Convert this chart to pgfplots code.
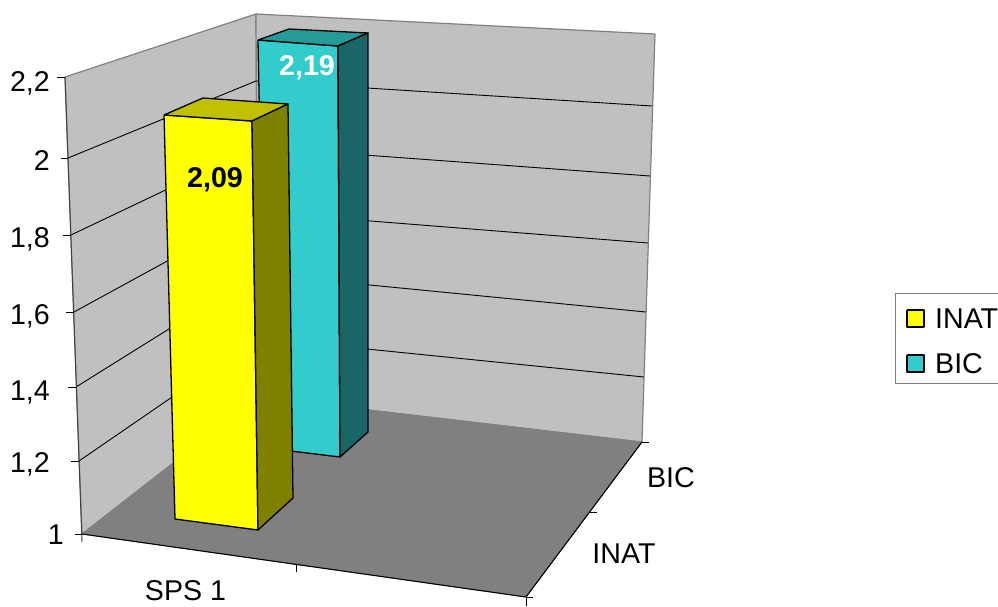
\documentclass[border=0pt]{standalone}
\usepackage{pgfplots}
\pgfplotsset{compat=1.18}
\usepackage{fontspec}
\setmainfont{Liberation Sans}
\definecolor{wall}{HTML}{C0C0C0}
\definecolor{floorc}{HTML}{808080}
\definecolor{yfront}{HTML}{FFFF00}
\definecolor{ytop}{HTML}{C0C000}
\definecolor{yside}{HTML}{808000}
\definecolor{tfront}{HTML}{33CCCC}
\definecolor{ttop}{HTML}{269999}
\definecolor{tside}{HTML}{1A6666}
\begin{document}
\begin{tikzpicture}[x=1bp,y=1bp]
\useasboundingbox (0,0) rectangle (998bp,607bp);
\begin{axis}[
  at={(0,0)}, anchor=south west,
  scale only axis, width=998bp, height=607bp,
  xmin=0, xmax=998, ymin=0, ymax=607, y dir=reverse,
  hide axis, clip=false, no markers,
  every axis plot/.append style={line join=round},
]
% walls and floor
\addplot[fill=wall,draw=floorc,line width=1.2bp] coordinates {(65,77)(256,14)(258,397)(82,534)(65,77)};
\addplot[fill=wall,draw=floorc,line width=1.2bp] coordinates {(256,14)(655,34)(642,442)(258,397)(256,14)};
\addplot[fill=floorc,draw=floorc,line width=0.6bp] coordinates {(82,534)(258,397)(642,442)(526,597)(82,534)};
% gridlines
\addplot[black,line width=0.9bp] coordinates {(68,158)(256,81)(652,106)};
\addplot[black,line width=0.9bp] coordinates {(71,235)(256,147)(650,176)};
\addplot[black,line width=0.9bp] coordinates {(74,312)(257,212)(648,243)};
\addplot[black,line width=0.9bp] coordinates {(76,387)(257,274)(646,312)};
\addplot[black,line width=0.9bp] coordinates {(79,461)(258,338)(644,377)};
% axes
\addplot[black!75,line width=1bp] coordinates {(65,77)(82,542)};
\addplot[black,line width=1.1bp] coordinates {(82,534)(526,597)(642,442)};
\addplot[black,line width=0.8bp] coordinates {(57,77)(65,77)};
\addplot[black,line width=0.8bp] coordinates {(61,158)(68,158)};
\addplot[black,line width=0.8bp] coordinates {(63,235)(71,235)};
\addplot[black,line width=0.8bp] coordinates {(66,312)(74,312)};
\addplot[black,line width=0.8bp] coordinates {(68,387)(76,387)};
\addplot[black,line width=0.8bp] coordinates {(71,461)(79,461)};
\addplot[black,line width=0.8bp] coordinates {(75,534)(82,534)};
\addplot[black,line width=0.8bp] coordinates {(296,565)(296,572)};
\addplot[black,line width=0.8bp] coordinates {(526,597)(526,606)};
\addplot[black,line width=0.8bp] coordinates {(526,597)(533,597)};
\addplot[black,line width=0.8bp] coordinates {(590,512)(597,512)};
\addplot[black,line width=0.8bp] coordinates {(642,442)(649,442)};
% BIC bar (2,19)
\addplot[fill=tfront,draw=black,line width=1.3bp] coordinates {(258,40)(338,46)(340,457)(266,448)(258,40)};
\addplot[fill=ttop,draw=black,line width=1.3bp] coordinates {(258,40)(289,29)(368,33)(338,46)(258,40)};
\addplot[fill=tside,draw=black,line width=1.3bp] coordinates {(338,46)(368,33)(368,432)(340,457)(338,46)};
% INAT bar (2,09)
\addplot[fill=yfront,draw=black,line width=1.3bp] coordinates {(164,115)(252,121)(258,530)(175,519)(164,115)};
\addplot[fill=ytop,draw=black,line width=1.3bp] coordinates {(164,115)(203,98)(288,104)(252,121)(164,115)};
\addplot[fill=yside,draw=black,line width=1.3bp] coordinates {(252,121)(288,104)(293,498)(258,530)(252,121)};
% text
\tikzset{lab/.style={font=\fontsize{28.6bp}{30bp}\selectfont,inner sep=0pt,text height=20.5bp,text depth=0pt}}
\node[lab,anchor=east] at (axis cs:50,81) {2,2};
\node[lab,anchor=east] at (axis cs:50,160) {2};
\node[lab,anchor=east] at (axis cs:50,237) {1,8};
\node[lab,anchor=east] at (axis cs:50,314) {1,6};
\node[lab,anchor=east] at (axis cs:50,390) {1,4};
\node[lab,anchor=east] at (axis cs:50,462) {1,2};
\node[lab,anchor=east] at (axis cs:64,534) {1};
\node[lab] at (axis cs:185.5,590) {SPS 1};
\node[lab] at (axis cs:624,553) {INAT};
\node[lab] at (axis cs:671,477) {BIC};
\node[lab,font=\fontsize{28.6bp}{30bp}\selectfont\bfseries] at (axis cs:215,177) {2,09};
\node[lab,white,font=\fontsize{28.6bp}{30bp}\selectfont\bfseries] at (axis cs:307,65) {2,19};
% legend
\addplot[draw=floorc,line width=1bp] coordinates {(998,293)(896,293)(896,383)(998,383)};
\addplot[fill=yfront,draw=black,line width=1.1bp] coordinates {(907,310)(924,310)(924,327)(907,327)(907,310)};
\addplot[fill=tfront,draw=black,line width=1.1bp] coordinates {(907,355)(924,355)(924,372)(907,372)(907,355)};
\node[lab,anchor=west] at (axis cs:935,318) {INAT};
\node[lab,anchor=west] at (axis cs:935,363) {BIC};
\end{axis}
\end{tikzpicture}
\end{document}
